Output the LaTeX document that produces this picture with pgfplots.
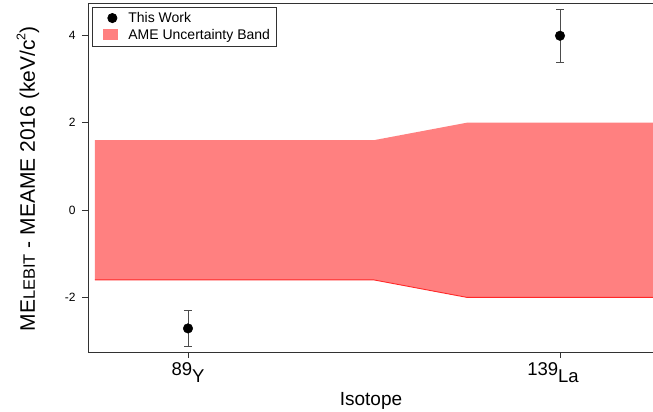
\documentclass[border=0pt]{standalone}
\usepackage{fontspec}
\setmainfont{Liberation Sans}
\usepackage{pgfplots}
\pgfplotsset{compat=1.18}
\definecolor{bandfill}{RGB}{255,128,128}
\definecolor{bandedge}{RGB}{255,40,40}
\definecolor{axgray}{RGB}{50,50,50}
\newcommand{\legwidth}{\pgfpathmoveto{\pgfpointorigin}\pgfpathlineto{\pgfpoint{22pt}{0pt}}\pgfusepath{discard}}
\begin{document}
\begin{tikzpicture}
\begin{axis}[
  name=ax,
  scale only axis,
  width=566pt, height=349pt,
  xmin=-0.2688, xmax=1.2527,
  ymin=-3.25, ymax=4.74,
  axis line style={axgray, line width=0.8pt},
  xtick={0,1},
  xticklabels={89\raisebox{-0.75ex}{Y}, \hspace*{-14pt}139\raisebox{-0.75ex}{La}},
  ytick={-2,0,2,4},
  xtick pos=bottom, ytick pos=left,
  tick align=outside,
  major tick length=6pt,
  tick style={axgray, line width=0.8pt},
  /pgf/number format/assume math mode=true,
  yticklabel style={font=\fontsize{12}{14}\selectfont, xshift=-3pt},
  xticklabel style={font=\fontsize{18.5}{22}\selectfont, yshift=-1pt},
  xlabel={Isotope},
  xlabel style={font=\fontsize{19}{22}\selectfont, at={(axis description cs:0.5,-0.152)}, anchor=base},
  ylabel={ME{\fontsize{16.5}{17}\selectfont LEBIT} - MEAME 2016 (keV/c\raisebox{0.85ex}{\fontsize{12.5}{12}\selectfont 2})},
  ylabel style={font=\fontsize{21}{24}\selectfont, at={(axis description cs:-0.094,0.496)}, anchor=base},
  legend style={at={(axis description cs:0.007,0.989)}, anchor=north west,
    draw=axgray, line width=0.8pt, font=\fontsize{14}{16}\selectfont,
    row sep=1.5pt, inner xsep=4pt, inner ysep=3pt,
    /tikz/every odd column/.append style={column sep=8pt}},
  legend cell align=left,
  reverse legend,
  clip=false,
]
\addplot[fill=bandfill, draw=none,
  legend image code/.code={\legwidth
    \fill[bandfill] (7pt,-5.2pt) rectangle (22pt,5.8pt);}]
  coordinates {
  (-0.25,1.6) (0.5,1.6) (0.75,2.0) (1.2527,2.0)
  (1.2527,-2.0) (0.75,-2.0) (0.5,-1.6) (-0.25,-1.6)} -- cycle;
\addlegendentry{AME Uncertainty Band}
\addplot[bandedge, line width=0.9pt, forget plot] coordinates {
  (-0.25,-1.6) (0.5,-1.6) (0.75,-2.0) (1.2527,-2.0)};
\addplot[only marks, mark=*, mark size=4.8pt, black,
  legend image code/.code={\legwidth
    \fill[black] (16pt,0pt) circle (4.6pt);},
  error bars/.cd, y dir=both, y explicit,
  error bar style={black!70, line width=0.9pt},
  error mark options={rotate=90, mark size=4pt, black!70, line width=0.9pt}]
  coordinates {(0,-2.71) +- (0,0.42) (1,3.99) +- (0,0.61)};
\addlegendentry{This Work}
\end{axis}
\pgfresetboundingbox
\path ([shift={(-88pt,-60pt)}]ax.south west) rectangle ([shift={(-1pt,3pt)}]ax.north east);
\end{tikzpicture}
\end{document}
